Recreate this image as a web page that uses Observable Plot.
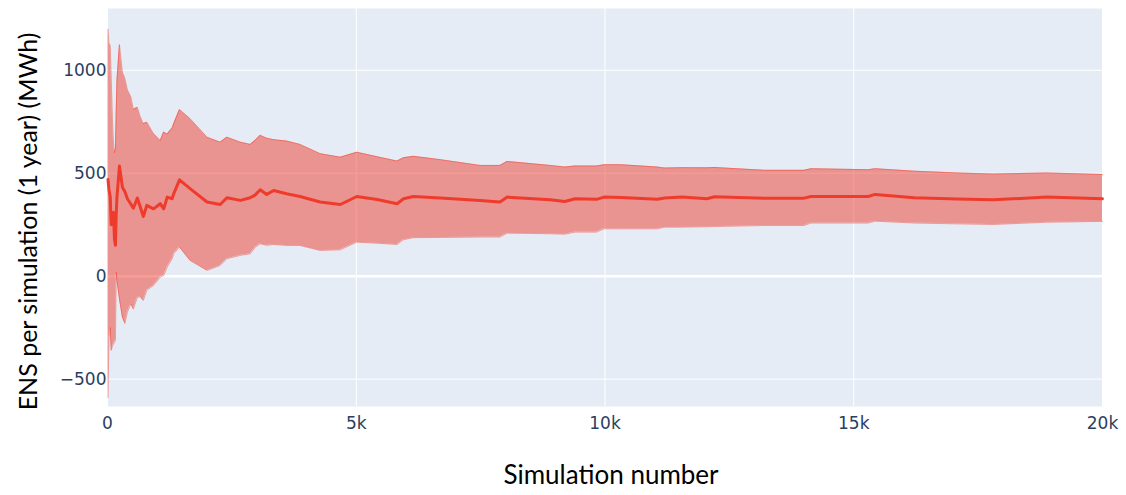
<!DOCTYPE html>
<html>
<head>
<meta charset="utf-8">
<script src="https://cdn.jsdelivr.net/npm/d3@7"></script>
<script src="https://cdn.jsdelivr.net/npm/@observablehq/plot@0.6"></script>
<style>
  html, body { margin: 0; padding: 0; background: white; }
</style>
</head>
<body>
<div id="chart"></div>
<script>
// Simulation number (x)
const simNumber = [10, 30, 55, 75, 100, 120, 140, 160, 175, 190, 240, 300, 350, 400, 470, 520, 600, 660, 720, 790, 925, 1060, 1130, 1200, 1300, 1330, 1447, 1660, 2000, 2265, 2400, 2670, 2870, 2970, 3070, 3200, 3340, 3600, 3870, 4275, 4680, 5010, 5420, 5820, 5950, 6150, 6690, 7490, 7890, 8030, 8900, 9190, 9400, 9830, 9980, 10330, 11050, 11200, 11550, 12050, 12200, 13210, 14000, 14140, 15290, 15430, 16220, 17080, 17800, 18880, 20000];
// Upper bound (MWh)
const upperBound = [1200, 1130, 1120, 960, 760, 650, 600, 620, 800, 950, 1125, 990, 960, 905, 870, 810, 820, 773, 740, 748, 692, 659, 700, 690, 720, 740, 809, 765, 675, 651, 675, 651, 640, 660, 684, 670, 663, 656, 640, 595, 578, 602, 580, 559, 575, 582, 566, 538, 538, 557, 538, 530, 535, 535, 541, 541, 530, 525, 527, 526, 528, 514, 514, 522, 517, 522, 510, 501, 496, 501, 494];
// Running mean (MWh)
const meanENS = [470, 420, 384, 250, 290, 310, 180, 150, 300, 384, 535, 432, 410, 376, 350, 330, 380, 335, 290, 344, 327, 352, 327, 384, 376, 400, 468, 425, 360, 348, 381, 368, 381, 395, 420, 397, 416, 400, 387, 360, 348, 387, 372, 352, 376, 387, 380, 368, 360, 384, 371, 363, 376, 373, 384, 382, 374, 380, 384, 376, 386, 378, 379, 387, 387, 397, 381, 375, 371, 384, 376];
// Lower bound (MWh)
const lowerBound = [-590, -300, -250, -360, -340, -330, -320, -310, 20, -20, -110, -200, -230, -175, -134, -160, -102, -100, -118, -69, -45, -5, 3, 44, 85, 109, 141, 76, 28, 52, 85, 101, 109, 141, 157, 150, 154, 149, 149, 125, 128, 165, 160, 154, 177, 187, 188, 190, 190, 209, 206, 204, 214, 214, 230, 230, 230, 238, 238, 240, 241, 246, 246, 258, 258, 267, 258, 254, 251, 262, 266];

const xTicks = [0, 5000, 10000, 15000, 20000];
const yTicks = [-500, 0, 500, 1000];
const xTitle = "Simulation number";
const yTitle = "ENS per simulation (1 year) (MWh)";

const data = simNumber.map((x, i) => ({x, upper: upperBound[i], mean: meanENS[i], lower: lowerBound[i]}));

const red = "rgb(239,59,44)";

const chart = Plot.plot({
  width: 1126,
  height: 495,
  marginLeft: 107,
  marginRight: 24,
  marginTop: 8,
  marginBottom: 89,
  style: {background: "white", fontFamily: "'DejaVu Sans', sans-serif", fontSize: "17px", color: "#2a3f5f"},
  x: {domain: [0, 20000], label: null},
  y: {domain: [-633, 1300], label: null},
  marks: [
    Plot.frame({fill: "#E5ECF6", stroke: null}),
    Plot.gridX(xTicks, {stroke: "white", strokeOpacity: 1, strokeWidth: 1}),
    Plot.gridY(yTicks, {stroke: "white", strokeOpacity: 1, strokeWidth: 1}),
    Plot.ruleY([0], {stroke: "white", strokeWidth: 2.5}),
    Plot.areaY(data, {x: "x", y1: "lower", y2: "upper", fill: red, fillOpacity: 0.5}),
    Plot.lineY(data, {x: "x", y: "upper", stroke: red, strokeOpacity: 0.45, strokeWidth: 1}),
    Plot.lineY(data, {x: "x", y: "lower", stroke: red, strokeOpacity: 0.45, strokeWidth: 1}),
    Plot.lineY(data, {x: "x", y: "mean", stroke: red, strokeWidth: 3}),
    Plot.axisX(xTicks, {tickSize: 0, tickPadding: 10, label: null, fill: "#2a3f5f", fontSize: 17,
      tickFormat: d => d === 0 ? "0" : (d / 1000) + "k"}),
    Plot.axisY(yTicks, {tickSize: 0, tickPadding: 1, label: null, fill: "#2a3f5f", fontSize: 17,
      tickFormat: d => d < 0 ? "\u2212" + Math.abs(d) : String(d)}),
    Plot.text([yTitle], {frameAnchor: "left", textAnchor: "middle", dx: -79, dy: 14, rotate: -90, fontSize: 25, fill: "black", fontFamily: "Lato, sans-serif"}),
    Plot.text([xTitle], {frameAnchor: "bottom", textAnchor: "middle", dy: 77, dx: 6, fontSize: 26, fill: "black", fontFamily: "Lato, sans-serif"})
  ]
});
document.getElementById("chart").appendChild(chart);
</script>
</body>
</html>
